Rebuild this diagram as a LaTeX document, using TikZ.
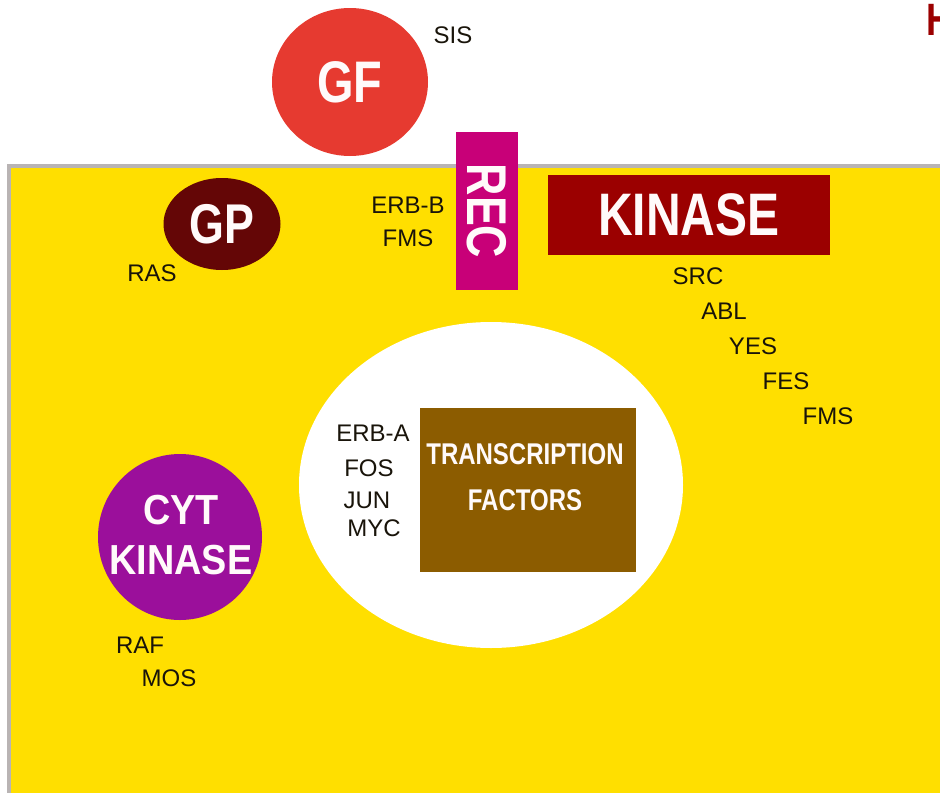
\documentclass[tikz,border=0pt]{standalone}
\usepackage{fontspec}
\setmainfont{Liberation Sans}
\newfontfamily\bnar{Liberation Sans}[FakeStretch=0.8]
\newfontfamily\bnarb{Liberation Sans}[FakeStretch=0.9]
\usetikzlibrary{shapes.geometric}
\definecolor{cellyellow}{RGB}{255,223,0}
\definecolor{gfred}{RGB}{230,58,48}
\definecolor{gpmaroon}{RGB}{100,6,6}
\definecolor{recmag}{RGB}{200,0,120}
\definecolor{kinred}{RGB}{155,0,0}
\definecolor{tfbrown}{RGB}{140,92,0}
\definecolor{cytpurple}{RGB}{155,15,155}
\definecolor{bordergray}{RGB}{185,180,180}
\definecolor{labelink}{RGB}{25,20,10}
\definecolor{textwhite}{RGB}{255,250,250}
\tikzset{
  blob/.style={draw=none, inner sep=0pt, text=textwhite, align=center},
  oval/.style={blob, ellipse},
  box/.style={blob, rectangle},
  gene/.style={inner sep=0pt, text=labelink, font=\fontsize{18}{18}\selectfont},
}
\begin{document}
\begin{tikzpicture}[x=0.75pt,y=-0.75pt]
\useasboundingbox (0,0) rectangle (940,793);
\begin{scope}
\clip (0,0) rectangle (940,793);
% cell (cytoplasm)
\fill[cellyellow] (10,167) rectangle (950,800);
\draw[bordergray, line width=3.5*0.75pt] (9,800) -- (9,166) -- (950,166);

% growth factor
\node[oval, fill=gfred, minimum width=156*0.75pt, minimum height=148*0.75pt,
      font=\bnar\bfseries\fontsize{44}{44}\selectfont] (gf) at (350,82) {GF};
\node[gene] (sis) at (453,35) {SIS};

% G protein
\node[oval, fill=gpmaroon, minimum width=117*0.75pt, minimum height=92*0.75pt,
      font=\bnar\bfseries\fontsize{42}{42}\selectfont] (gp) at (222,224) {GP};
\node[gene] (ras) at (152,273) {RAS};

% receptor
\node[box, fill=recmag, rotate=-90, minimum width=158*0.75pt, minimum height=62*0.75pt,
      font=\bnar\bfseries\fontsize{42}{42}\selectfont] (rec) at (487,211) {REC};
\node[gene] (erbb) at (408,205) {ERB-B};
\node[gene] (fms1) at (408,238) {FMS};

% kinase
\node[box, fill=kinred, minimum width=282*0.75pt, minimum height=80*0.75pt,
      font=\bnar\bfseries\fontsize{45}{45}\selectfont] (kin) at (689,215) {\raisebox{-2pt}{KINASE}};
\node[gene] (src) at (698,276) {SRC};
\node[gene] (abl) at (724,311) {ABL};
\node[gene] (yes) at (753,346) {YES};
\node[gene] (fes) at (786,381) {FES};
\node[gene] (fms2) at (828,416) {FMS};

% nucleus
\node[ellipse, fill=white, inner sep=0pt, minimum width=384*0.75pt, minimum height=326*0.75pt] (nuc) at (491,485) {};
\node[box, fill=tfbrown, minimum width=216*0.75pt, minimum height=164*0.75pt] (tf) at (528,490) {};
\node[blob, font=\bnar\bfseries\fontsize{22.5}{35}\selectfont] (tft) at (525,477) {TRANSCRIPTION\\FACTORS};
\node[gene] (erba) at (373,433) {ERB-A};
\node[gene] (fos) at (369,468) {FOS};
\node[gene] (jun) at (367,500) {JUN};
\node[gene] (myc) at (374,528) {MYC};

% cytoplasmic kinase
\node[oval, fill=cytpurple, minimum width=164*0.75pt, minimum height=166*0.75pt] (cyt) at (180,537) {};
\node[blob, font=\bnarb\bfseries\fontsize{31.5}{37.5}\selectfont] (cytt) at (181,535) {CYT\\KINASE};
\node[gene] (raf) at (140,645) {RAF};
\node[gene] (mos) at (169,678) {MOS};

% cut-off title letter
\node[inner sep=0pt, anchor=west, text=kinred, font=\bnar\bfseries\fontsize{34}{34}\selectfont] (title) at (926,20) {H};
\end{scope}
\end{tikzpicture}
\end{document}
